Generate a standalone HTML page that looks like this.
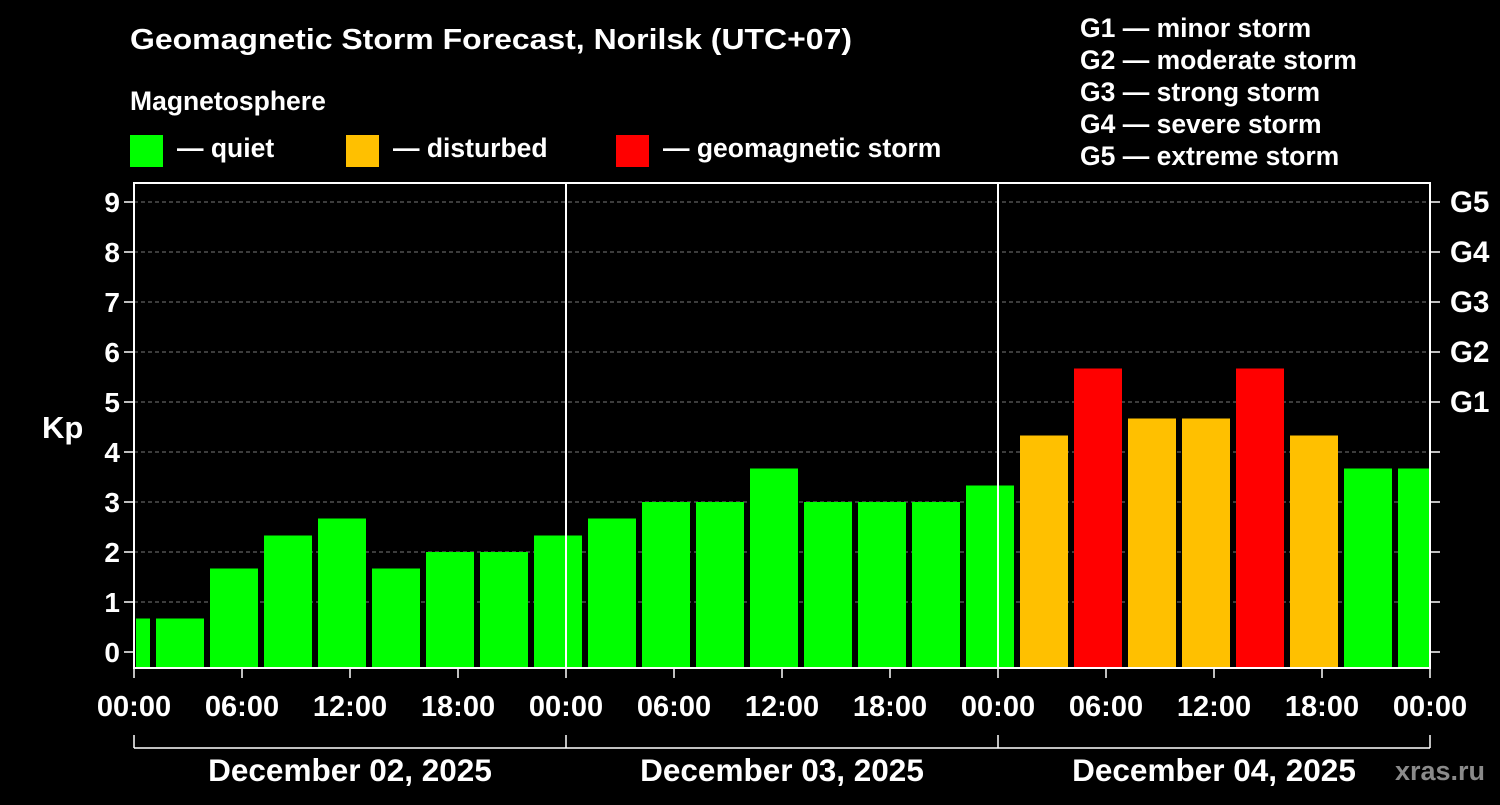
<!DOCTYPE html>
<html><head><meta charset="utf-8"><style>
body{margin:0;background:#000;width:1500px;height:800px;overflow:hidden}
svg text{font-family:"Liberation Sans",Arial,sans-serif;font-weight:bold;fill:#fff}
</style></head><body>
<svg id="chart" width="1500" height="800" xmlns="http://www.w3.org/2000/svg">
<text x="130" y="49" font-size="29" textLength="722" lengthAdjust="spacingAndGlyphs">Geomagnetic Storm Forecast, Norilsk (UTC+07)</text>
<text x="130" y="110" font-size="26.5">Magnetosphere</text>
<rect x="130" y="135" width="33" height="32" fill="#00ff00"/>
<text x="177" y="157" font-size="26.5">— quiet</text>
<rect x="346" y="135" width="33" height="32" fill="#ffc000"/>
<text x="393" y="157" font-size="26.5">— disturbed</text>
<rect x="616" y="135" width="33" height="32" fill="#ff0000"/>
<text x="663" y="157" font-size="26.5">— geomagnetic storm</text>
<g font-size="26.5">
<text x="1080" y="37">G1 — minor storm</text>
<text x="1080" y="69">G2 — moderate storm</text>
<text x="1080" y="101">G3 — strong storm</text>
<text x="1080" y="133">G4 — severe storm</text>
<text x="1080" y="165">G5 — extreme storm</text>
</g>
<text x="42" y="438" font-size="31">Kp</text>
<text x="1440" y="780" font-size="27" text-anchor="middle" style="fill:#8a8a8a">xras.ru</text>
<g id="plot"></g>
</svg>
<script>
const kpValues=[0.67,0.67,1.67,2.33,2.67,1.67,2,2,2.33,2.67,3,3,3.67,3,3,3,3.33,4.33,5.67,4.67,4.67,5.67,4.33,3.67,3.67];
const yTicks=[0,1,2,3,4,5,6,7,8,9];
const gLabels=["G1","G2","G3","G4","G5"];
const xTickLabels=["00:00","06:00","12:00","18:00","00:00","06:00","12:00","18:00","00:00","06:00","12:00","18:00","00:00"];
const dayLabels=["December 02, 2025","December 03, 2025","December 04, 2025"];
const L=134,R=1430,T=183,B=668;
const hourPx=(R-L)/72;
const x=h=>L+h*hourPx;
const y=v=>652-v*50;
const NS="http://www.w3.org/2000/svg";
const g=document.getElementById('plot');
function mk(t,a){const e=document.createElementNS(NS,t);for(const k in a)e.setAttribute(k,a[k]);g.appendChild(e);return e;}
yTicks.forEach(v=>{if(v>0){const l=mk('line',{x1:L,x2:R,y1:y(v),y2:y(v),stroke:'#777','stroke-dasharray':'4,3','stroke-width':1});}
const t=mk('line',{x1:L-10,x2:L,y1:y(v),y2:y(v),stroke:'#fff','stroke-width':1.5});
const t2=mk('line',{x1:R,x2:R+10,y1:y(v),y2:y(v),stroke:'#fff','stroke-width':1.5});
const lb=mk('text',{x:L-14,y:y(v)+10,'font-size':28,'text-anchor':'end'});lb.textContent=v;
if(v>=5){const gl=mk('text',{x:R+20,y:y(v)+10,'font-size':29.5});gl.textContent=gLabels[v-5];}
});
kpValues.forEach((v,i)=>{
let s=x(-2+i*3)+4,e=x(1+i*3)-2;
s=Math.max(s,L+2);e=Math.min(e,R);
const c=v>=5?'#ff0000':(v>=4?'#ffc000':'#00ff00');
const r=mk('rect',{x:s,y:y(v),width:e-s,height:B-y(v),fill:c});


});
[24,48].forEach(h=>{const l=mk('line',{x1:x(h),x2:x(h),y1:T,y2:B,stroke:'#fff','stroke-width':2});});
const f=mk('rect',{x:L,y:T,width:R-L,height:B-T,fill:'none',stroke:'#fff','stroke-width':2});

xTickLabels.forEach((s,i)=>{const h=i*6;
const t=mk('line',{x1:x(h),x2:x(h),y1:B,y2:B+10,stroke:'#fff','stroke-width':1.5});
const lb=mk('text',{x:x(h),y:716,'font-size':29,'text-anchor':'middle'});lb.textContent=s;});
const bl=mk('line',{x1:L,x2:R,y1:748,y2:748,stroke:'#fff','stroke-width':1.5});
[0,24,48,72].forEach(h=>{const t=mk('line',{x1:x(h),x2:x(h),y1:735,y2:748,stroke:'#fff','stroke-width':1.5});});
dayLabels.forEach((s,i)=>{const lb=mk('text',{x:x(i*24+12),y:781,'font-size':31.5,'text-anchor':'middle'});lb.textContent=s;});
</script>
</body></html>
